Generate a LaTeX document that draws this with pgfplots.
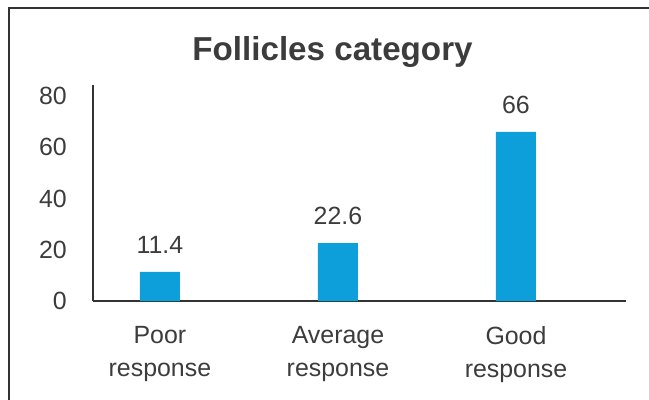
\documentclass[border=0pt]{standalone}
\usepackage{pgfplots}
\pgfplotsset{compat=1.18}
\usepackage{fontspec}
\setmainfont{Liberation Sans}
\definecolor{barblue}{RGB}{12,159,218}
\definecolor{txt}{RGB}{60,60,60}
\definecolor{axl}{RGB}{50,50,50}
\begin{document}
\begin{tikzpicture}
\useasboundingbox (-93bp,-99bp) rectangle (556bp,301bp);
\clip (-93bp,-99bp) rectangle (556bp,301bp);
\draw[line width=2.2bp, color=axl] (-84bp,-140bp) rectangle (600bp,293bp);
\node[anchor=base, text=txt, font=\fontsize{33.3}{38}\selectfont\bfseries] at (239.5bp,240bp) {Follicles category};
\begin{axis}[
  scale only axis,
  width=533bp, height=216bp,
  xmin=-0.376, xmax=2.618,
  ymin=0, ymax=84.3,
  axis x line=bottom, axis y line=left,
  axis line style={line width=1.8bp, color=axl, -},
  major tick length=0pt,
  xtick={0,1,2},
  xticklabels={{Poor\\response},{Average\\response},{Good\\response}},
  ytick={0,20,40,60,80},
  /pgf/number format/assume math mode=true,
  tick label style={font=\fontsize{25}{33}\selectfont, text=txt},
  xticklabel style={align=center, anchor=north, inner sep=0pt, yshift=-25bp},
  yticklabel style={anchor=east, inner sep=0pt, xshift=-26bp},
  ybar, bar width=40bp,
  nodes near coords,
  every node near coord/.append style={font=\fontsize{25}{28}\selectfont, text=txt, inner sep=0pt, anchor=south, yshift=18bp},
  point meta=explicit symbolic,
]
\addplot[fill=barblue, draw=none] coordinates {(0,11.4)[11.4] (1,22.6)[22.6] (2,66)[66]};
\end{axis}
\end{tikzpicture}
\end{document}
